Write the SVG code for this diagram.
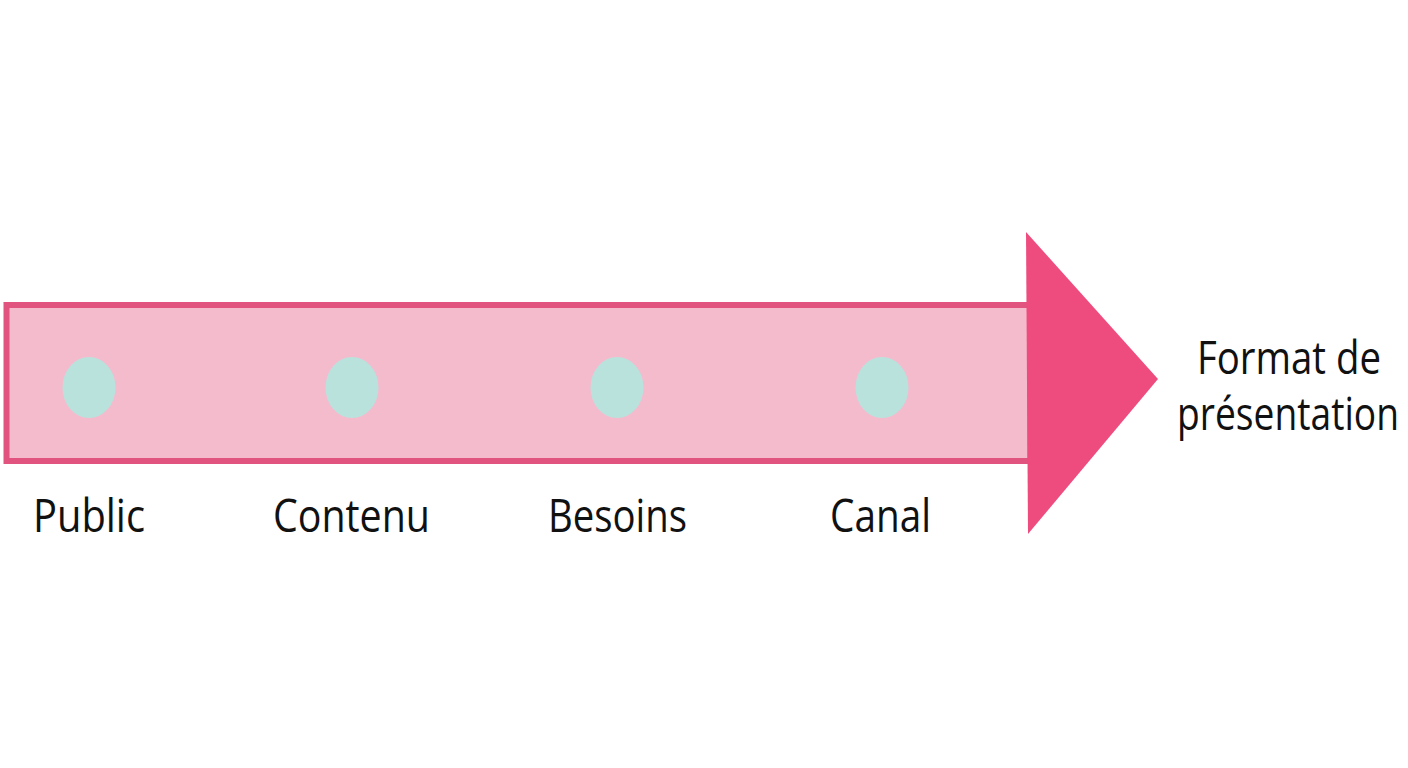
<svg xmlns="http://www.w3.org/2000/svg" width="1408" height="768" viewBox="0 0 1408 768">
  <style>
    .lbl { font-family: "Open Sans", "Noto Sans", "Liberation Sans", sans-serif; font-size: 46px; fill: #111111; }
    .dot { fill: #BAE2DC; }
  </style>
  <rect width="1408" height="768" fill="#FFFFFF"/>
  <g id="connectors">
    <g id="arrow">
      <rect x="6.5" y="305" width="1024" height="156" fill="#F4BBCD" stroke="#E0547F" stroke-width="6"/>
      <polygon points="1026,232 1158,379 1028,534" fill="#EE4C7E"/>
    </g>
  </g>
  <g id="node-public">
    <ellipse class="dot" cx="89" cy="387.5" rx="26.5" ry="30.5"/>
    <text class="lbl" x="89" y="532" text-anchor="middle" textLength="112" lengthAdjust="spacingAndGlyphs">Public</text>
  </g>
  <g id="node-contenu">
    <ellipse class="dot" cx="352" cy="387.5" rx="26.5" ry="30.5"/>
    <text class="lbl" x="351.5" y="532" text-anchor="middle" textLength="157" lengthAdjust="spacingAndGlyphs">Contenu</text>
  </g>
  <g id="node-besoins">
    <ellipse class="dot" cx="617" cy="387.5" rx="26.5" ry="30.5"/>
    <text class="lbl" x="617.5" y="532" text-anchor="middle" textLength="139" lengthAdjust="spacingAndGlyphs">Besoins</text>
  </g>
  <g id="node-canal">
    <ellipse class="dot" cx="882" cy="387.5" rx="26.5" ry="30.5"/>
    <text class="lbl" x="880.5" y="532" text-anchor="middle" textLength="101" lengthAdjust="spacingAndGlyphs">Canal</text>
  </g>
  <g id="node-format">
    <g transform="translate(1289,374) scale(0.864,1)">
      <text class="lbl" x="0" y="0" text-anchor="middle" font-size="44" textLength="213" lengthAdjust="spacingAndGlyphs">Format de</text>
    </g>
    <g transform="translate(1288,430) scale(0.844,1)">
      <text class="lbl" x="0" y="0" text-anchor="middle" font-size="44" textLength="263" lengthAdjust="spacingAndGlyphs">présentation</text>
    </g>
  </g>
</svg>
